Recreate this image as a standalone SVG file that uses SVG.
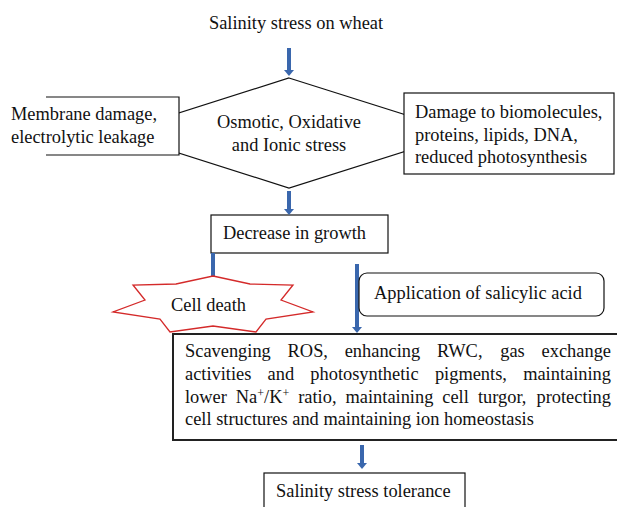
<svg xmlns="http://www.w3.org/2000/svg" width="617" height="507" viewBox="0 0 617 507">
<style>
text{font-family:'Liberation Serif',serif;font-size:18.4px;fill:#111}
.box{fill:#fff;stroke:#111;stroke-width:1.2}
.big{fill:#fff;stroke:#222;stroke-width:2}
.arr{stroke:#3a67ad;stroke-width:4;fill:none}
.star{fill:#fff;stroke:#d42a2a;stroke-width:1.3}
</style>
<defs>
<marker id="ah" markerUnits="userSpaceOnUse" markerWidth="6" markerHeight="10" viewBox="0 0 6 10" refX="0" refY="5" orient="auto">
<path d="M0,0 L6,5 L0,10 z" fill="#3a67ad"/>
</marker>
</defs>
<rect width="617" height="507" fill="#fff"/>

<g id="title"><text x="296" y="29" text-anchor="middle">Salinity stress on wheat</text></g>

<g id="stress">
<polygon points="289,78 463,133 289,188 116,133" class="box"/>
<text x="289" y="128" text-anchor="middle">Osmotic, Oxidative</text>
<text x="289" y="151" text-anchor="middle">and Ionic stress</text>
</g>

<g id="membrane">
<rect x="46" y="97" width="133" height="58" fill="#fff"/>
<polyline points="46,97 179,97 179,155 46,155" fill="none" stroke="#111" stroke-width="1.2"/>
<text x="11" y="120">Membrane damage,</text>
<text x="11" y="143">electrolytic leakage</text>
</g>

<g id="biomolecules">
<rect x="404" y="93" width="210" height="81" class="box"/>
<text x="415" y="118">Damage to biomolecules,</text>
<text x="415" y="141">proteins, lipids, DNA,</text>
<text x="415" y="163">reduced photosynthesis</text>
</g>

<g id="growth">
<rect x="211" y="215" width="177" height="38" class="box"/>
<text x="223" y="239">Decrease in growth</text>
</g>

<g id="connectors">
<line x1="289" y1="48" x2="289" y2="70" class="arr" marker-end="url(#ah)"/>
<line x1="289" y1="191" x2="289" y2="209" class="arr" marker-end="url(#ah)"/>
<line x1="213" y1="253" x2="213" y2="278" class="arr"/>
<line x1="357" y1="264" x2="357" y2="327" class="arr" marker-end="url(#ah)"/>
<line x1="362" y1="445" x2="362" y2="463" class="arr" marker-end="url(#ah)"/>
</g>

<g id="celldeath">
<polygon class="star" points="213,276 250,284 293,285 281,300 313,312 266,319 256,332 213,326 170,332 160,319 113,312 145,300 133,285 176,284"/>
<text x="208.5" y="311" text-anchor="middle">Cell death</text>
</g>

<g id="salicylic">
<rect x="359" y="273" width="245" height="43" rx="8" ry="8" class="box"/>
<text x="374" y="299">Application of salicylic acid</text>
</g>

<g id="effects">
<rect x="173" y="334" width="450" height="106" class="big"/>
<text y="357"><tspan x="185">Scavenging</tspan><tspan x="287.6">ROS,</tspan><tspan x="344.7">enhancing</tspan><tspan x="437">RWC,</tspan><tspan x="500.2">gas</tspan></text>
<text x="611" y="357" text-anchor="end">exchange</text>
<text y="380"><tspan x="185">activities</tspan><tspan x="267.6">and</tspan><tspan x="310.3">photosynthetic</tspan><tspan x="434.9">pigments,</tspan></text>
<text x="611" y="380" text-anchor="end">maintaining</text>
<text y="403"><tspan x="185">lower</tspan><tspan x="235.8">Na</tspan><tspan font-size="12" dy="-6">+</tspan><tspan dy="6">/K</tspan><tspan font-size="12" dy="-6">+</tspan><tspan dy="6" x="298.2">ratio,</tspan><tspan x="345.5">maintaining</tspan><tspan x="442.3">cell</tspan><tspan x="477.9">turgor,</tspan></text>
<text x="611" y="403" text-anchor="end">protecting</text>
<text x="185" y="425">cell structures and maintaining ion homeostasis</text>
</g>

<g id="tolerance">
<rect x="264" y="473" width="201" height="40" class="box"/>
<text x="276" y="497">Salinity stress tolerance</text>
</g>
</svg>
